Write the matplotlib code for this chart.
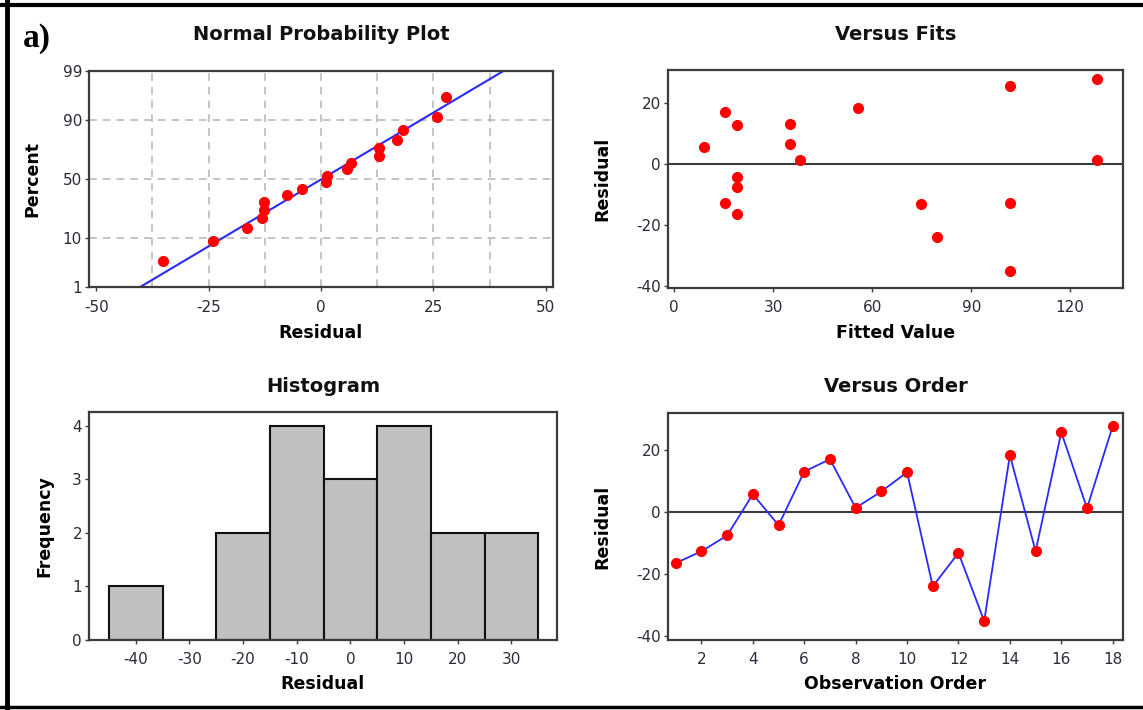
import numpy as np
import matplotlib
matplotlib.use('Agg')
import matplotlib.pyplot as plt
from matplotlib.lines import Line2D
from statistics import NormalDist

# ---------------- data ----------------
observation_order = list(range(1, 19))
residuals = [-16.5, -12.7, -7.6, 5.7, -4.3, 13.0, 17.0, 1.3, 6.6, 12.8,
             -24.0, -13.2, -35.2, 18.3, -12.7, 25.7, 1.2, 27.7]
fitted_values = [19.1, 15.5, 19.1, 8.9, 19.1, 35.1, 15.5, 38.2, 35.1, 19.1,
                 79.6, 74.8, 101.9, 55.6, 101.9, 101.9, 128.2, 128.2]
hist_bin_edges = [-45, -35, -25, -15, -5, 5, 15, 25, 35]
hist_ticks = [-40, -30, -20, -10, 0, 10, 20, 30]
prob_ticks = [1, 10, 50, 90, 99]
npp_xticks = [-50, -25, 0, 25, 50]
npp_grid_x = [-37.5, -25, -12.5, 0, 12.5, 25, 37.5]
fits_xticks = [0, 30, 60, 90, 120]
resid_yticks = [-40, -20, 0, 20]
order_xticks = [2, 4, 6, 8, 10, 12, 14, 16, 18]
freq_yticks = [0, 1, 2, 3, 4]

# ---------------- style ----------------
plt.rcParams['font.family'] = ['DejaVu Sans']
plt.rcParams['axes.unicode_minus'] = False
RED = '#ff0000'
BLUE = '#2a2aff'
SPINE = '#3c3c3c'
TICKC = '#2b2b3a'
TITLE_FS = 14
LABEL_FS = 12.5
TICK_FS = 11

fig = plt.figure(figsize=(11.43, 7.10), dpi=100)
W, H = 1143, 710


def axes_px(x0, y0, x1, y1):
    return fig.add_axes([x0 / W, 1 - y1 / H, (x1 - x0) / W, (y1 - y0) / H])


def style(ax):
    for s in ax.spines.values():
        s.set_color(SPINE)
        s.set_linewidth(1.6)
    ax.tick_params(direction='out', length=3, width=1, colors=SPINE,
                   labelcolor=TICKC, labelsize=TICK_FS)
    ax.tick_params(axis='x', pad=6)
    ax.tick_params(axis='y', pad=2)


def title(ax, text, y):
    ax.text(0.5, y, text, transform=ax.transAxes, ha='center', va='center',
            fontsize=TITLE_FS, fontweight='bold', color='#111111')


# ---------- Normal probability plot ----------
nd = NormalDist()
ax1 = axes_px(89, 71, 553, 287)
style(ax1)
n = len(residuals)
sorted_res = np.sort(residuals)
pct = (np.arange(1, n + 1) - 0.3) / (n + 0.4)
zvals = [nd.inv_cdf(p) for p in pct]
mu = float(np.mean(residuals))
sd = float(np.std(residuals, ddof=1))
zlo, zhi = nd.inv_cdf(0.01), nd.inv_cdf(0.99)
for gx in npp_grid_x:
    ax1.axvline(gx, color='#b4b4b4', lw=1.1, ls=(0, (5, 4)), zorder=0)
for p in prob_ticks[1:-1]:
    ax1.axhline(nd.inv_cdf(p / 100), color='#b4b4b4', lw=1.1, ls=(0, (5, 4)), zorder=0)
ax1.plot([mu + sd * zlo, mu + sd * zhi], [zlo, zhi], color=BLUE, lw=1.5, zorder=2)
ax1.plot(sorted_res, zvals, 'o', color=RED, ms=7, zorder=3)
ax1.set_xlim(-51.6, 51.6)
ax1.set_ylim(zlo, zhi)
ax1.set_xticks(npp_xticks)
ax1.set_yticks([nd.inv_cdf(p / 100) for p in prob_ticks])
ax1.set_yticklabels([str(p) for p in prob_ticks])
ax1.set_xlabel('Residual', fontsize=LABEL_FS, fontweight='bold')
ax1.set_ylabel('Percent', fontsize=LABEL_FS, fontweight='bold')
ax1.xaxis.set_label_coords(0.5, -0.171)
ax1.yaxis.set_label_coords(-0.103, 0.5)
title(ax1, 'Normal Probability Plot', 1.167)

# ---------- Versus Fits ----------
ax2 = axes_px(668, 70, 1123, 288)
style(ax2)
ax2.axhline(0, color=SPINE, lw=1.5, zorder=1)
ax2.plot(fitted_values, residuals, 'o', color=RED, ms=7, zorder=3)
ax2.set_xlim(-1.9, 136)
ax2.set_ylim(-40.7, 30.8)
ax2.set_xticks(fits_xticks)
ax2.set_yticks(resid_yticks)
ax2.set_xlabel('Fitted Value', fontsize=LABEL_FS, fontweight='bold')
ax2.set_ylabel('Residual', fontsize=LABEL_FS, fontweight='bold')
ax2.xaxis.set_label_coords(0.5, -0.165)
ax2.yaxis.set_label_coords(-0.125, 0.5)
title(ax2, 'Versus Fits', 1.161)

# ---------- Histogram ----------
ax3 = axes_px(89, 412, 557, 640)
style(ax3)
ax3.hist(residuals, bins=hist_bin_edges, color='#c0c0c0', edgecolor='#111111',
         linewidth=1.5, zorder=2)
ax3.set_xlim(-48.7, 38.5)
ax3.set_ylim(0, 4.26)
ax3.set_xticks(hist_ticks)
ax3.set_yticks(freq_yticks)
ax3.set_xlabel('Residual', fontsize=LABEL_FS, fontweight='bold')
ax3.set_ylabel('Frequency', fontsize=LABEL_FS, fontweight='bold')
ax3.xaxis.set_label_coords(0.5, -0.154)
ax3.yaxis.set_label_coords(-0.077, 0.5)
title(ax3, 'Histogram', 1.11)

# ---------- Versus Order ----------
ax4 = axes_px(668, 413, 1123, 640)
style(ax4)
ax4.axhline(0, color=SPINE, lw=1.5, zorder=1)
ax4.plot(observation_order, residuals, '-', color=BLUE, lw=1.3, zorder=2)
ax4.plot(observation_order, residuals, 'o', color=RED, ms=7, zorder=3)
ax4.set_xlim(0.7, 18.4)
ax4.set_ylim(-41.3, 31.9)
ax4.set_xticks(order_xticks)
ax4.set_yticks(resid_yticks)
ax4.set_xlabel('Observation Order', fontsize=LABEL_FS, fontweight='bold')
ax4.set_ylabel('Residual', fontsize=LABEL_FS, fontweight='bold')
ax4.xaxis.set_label_coords(0.5, -0.154)
ax4.yaxis.set_label_coords(-0.125, 0.5)
title(ax4, 'Versus Order', 1.115)

# ---------- outer frame and panel label ----------
def fline(x0, y0, x1, y1, lw):
    fig.add_artist(Line2D([x0 / W, x1 / W], [1 - y0 / H, 1 - y1 / H],
                          transform=fig.transFigure, color='black', lw=lw))

fline(7, 0, 7, 710, 3.5)
fline(0, 5, 1143, 5, 3)
fline(0, 707, 1143, 707, 2.5)

fig.text(37 / W, 1 - 39 / H, 'a)', ha='center', va='center',
         fontsize=24, fontweight='bold', family='Liberation Serif')

fig.savefig('out.png', dpi=100)
